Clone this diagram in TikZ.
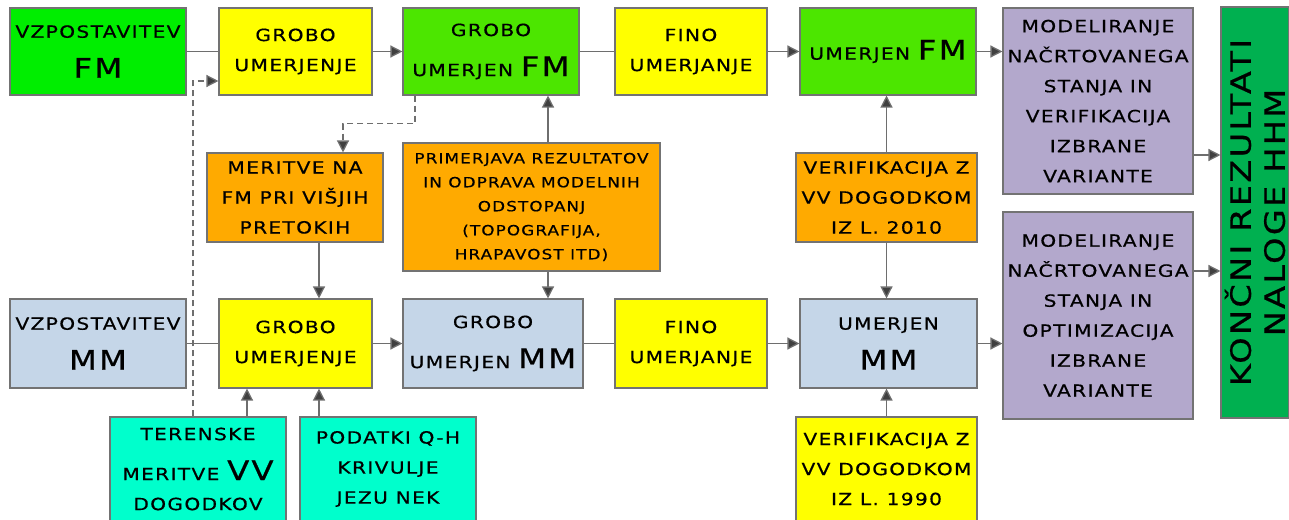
\documentclass[tikz,border=0pt]{standalone}
\usepackage{fontspec}
\setmainfont[FakeStretch=1.2, LetterSpace=8, FakeBold=0.6]{DejaVu Sans}
\usetikzlibrary{arrows.meta, positioning}

\definecolor{zelenaA}{RGB}{0,238,0}
\definecolor{zelenaB}{RGB}{76,230,0}
\definecolor{zelenaK}{RGB}{0,176,80}
\definecolor{rumena}{RGB}{255,255,0}
\definecolor{oranzna}{RGB}{255,170,0}
\definecolor{modra}{RGB}{197,214,232}
\definecolor{vijolicna}{RGB}{179,168,204}
\definecolor{turkizna}{RGB}{0,255,204}
\definecolor{crtasiva}{RGB}{110,110,110}

\newcommand{\mali}{\fontsize{16.8}{30}\selectfont}
\newcommand{\velik}[1]{{\fontsize{27}{30}\selectfont #1}}

\tikzset{node distance=2cm, auto}
\tikzset{
  blok/.style={draw=black!55, line width=1.1pt, align=center, inner sep=0pt, font=\mali},
  crta/.style={draw=crtasiva, line width=1.3pt},
  puscica/.style={crta, -{Triangle[length=12pt, width=12pt, fill=black!75]}},
  crtkano/.style={puscica, dashed, dash pattern=on 6pt off 4pt}
}

\begin{document}
\begin{tikzpicture}[x=1pt, y=-1pt]
\useasboundingbox (0,0) rectangle (1289,519);
%% top row (FM)
  \node[blok, fill=zelenaA, minimum width=176pt, minimum height=87pt] (vzfm) at (98,51.5) {VZPOSTAVITEV\\[10pt]\velik{FM}};
  \node[blok, fill=rumena, minimum width=153pt, minimum height=87pt] (grobofm) at (295.5,51.5) {GROBO\\UMERJENJE};
  \node[blok, fill=zelenaB, minimum width=176pt, minimum height=87pt] (grfm) at (491,51.5) {GROBO\\[10pt]UMERJEN \velik{FM}};
  \node[blok, fill=rumena, minimum width=152pt, minimum height=87pt] (finofm) at (691,51.5) {FINO\\UMERJANJE};
  \node[blok, fill=zelenaB, minimum width=176pt, minimum height=87pt] (umfm) at (888,51.5) {UMERJEN \velik{FM}};
%% middle row
  \node[blok, fill=oranzna, minimum width=176pt, minimum height=89pt] (meritve) at (295,197.5) {MERITVE NA\\FM PRI VIŠJIH\\PRETOKIH};
  \node[blok, fill=oranzna, minimum width=257pt, minimum height=128pt, font=\fontsize{14}{24}\selectfont] (prim) at (531.5,207) {PRIMERJAVA REZULTATOV\\IN ODPRAVA MODELNIH\\ODSTOPANJ\\(TOPOGRAFIJA,\\HRAPAVOST ITD)};
  \node[blok, fill=oranzna, minimum width=181pt, minimum height=89pt] (ver2010) at (886.5,197.5) {VERIFIKACIJA Z\\VV DOGODKOM\\IZ L. 2010};
%% bottom row (MM)
  \node[blok, fill=modra, minimum width=176pt, minimum height=89pt] (vzmm) at (98,343.5) {VZPOSTAVITEV\\[10pt]\velik{MM}};
  \node[blok, fill=rumena, minimum width=153pt, minimum height=89pt] (grobomm) at (295.5,343.5) {GROBO\\UMERJENJE};
  \node[blok, fill=modra, minimum width=180pt, minimum height=89pt] (grmm) at (493,343.5) {GROBO\\[10pt]UMERJEN \velik{MM}};
  \node[blok, fill=rumena, minimum width=152pt, minimum height=89pt] (finomm) at (691,343.5) {FINO\\UMERJANJE};
  \node[blok, fill=modra, minimum width=177pt, minimum height=89pt] (ummm) at (888.5,343.5) {UMERJEN\\[10pt]\velik{MM}};
%% inputs below
  \node[blok, fill=turkizna, minimum width=176pt, minimum height=104pt] (teren) at (198,469) {TERENSKE\\[10pt]MERITVE \velik{VV}\\DOGODKOV};
  \node[blok, fill=turkizna, minimum width=176pt, minimum height=104pt] (podatki) at (388,469) {PODATKI Q-H\\KRIVULJE\\JEZU NEK};
  \node[blok, fill=rumena, minimum width=181pt, minimum height=104pt] (ver1990) at (886.5,469) {VERIFIKACIJA Z\\VV DOGODKOM\\IZ L. 1990};
%% modelling and results
  \node[blok, fill=vijolicna, minimum width=190pt, minimum height=186pt] (modver) at (1098,101) {MODELIRANJE\\NAČRTOVANEGA\\STANJA IN\\VERIFIKACIJA\\IZBRANE\\VARIANTE};
  \node[blok, fill=vijolicna, minimum width=190pt, minimum height=207pt] (modopt) at (1098,315.5) {MODELIRANJE\\NAČRTOVANEGA\\STANJA IN\\OPTIMIZACIJA\\IZBRANE\\VARIANTE};
  \node[blok, fill=zelenaK, rotate=90, minimum width=411pt, minimum height=68pt, font=\fontsize{28}{34}\selectfont] (koncni) at (1255,212.5) {KONČNI REZULTATI\\NALOGE HHM};
%% connectors
  \draw[crta] (vzfm) -- (grobofm);
  \draw[puscica] (grobofm) -- (grfm);
  \draw[crta] (grfm) -- (finofm);
  \draw[puscica] (finofm) -- (umfm);
  \draw[puscica] (umfm) -- (umfm -| modver.west);
  \draw[crta] (vzmm) -- (grobomm);
  \draw[puscica] (grobomm) -- (grmm);
  \draw[crta] (grmm) -- (finomm);
  \draw[puscica] (finomm) -- (ummm);
  \draw[puscica] (ummm) -- (ummm -| modopt.west);
  \draw[puscica] ([yshift=-54pt]modver.east) -- ([yshift=-54pt]modver.east -| koncni.north);
  \draw[puscica] ([yshift=44.5pt]modopt.east) -- ([yshift=44.5pt]modopt.east -| koncni.north);
  \draw[puscica] ([xshift=24pt]meritve.south) -- ([xshift=24pt]meritve.south |- grobomm.north);
  \draw[puscica] ([xshift=16.5pt]prim.north) -- ([xshift=16.5pt]prim.north |- grfm.south);
  \draw[puscica] ([xshift=16.5pt]prim.south) -- ([xshift=16.5pt]prim.south |- grmm.north);
  \draw[puscica] (ver2010.north) -- (ver2010.north |- umfm.south);
  \draw[puscica] (ver2010.south) -- (ver2010.south |- ummm.north);
  \draw[puscica] (ver1990.north) -- (ver1990.north |- ummm.south);
  \draw[puscica] ([xshift=49pt]teren.north) -- ([xshift=49pt]teren.north |- grobomm.south);
  \draw[puscica] ([xshift=-69pt]podatki.north) -- ([xshift=-69pt]podatki.north |- grobomm.south);
%% dashed feedback
  \draw[crtkano] ([xshift=-76pt]grfm.south) -- ++(0,28) -| ([xshift=48pt]meritve.north);
  \draw[crtkano] ([xshift=-5pt]teren.north) |- ([yshift=-29.5pt]grobofm.west);
\end{tikzpicture}
\end{document}
